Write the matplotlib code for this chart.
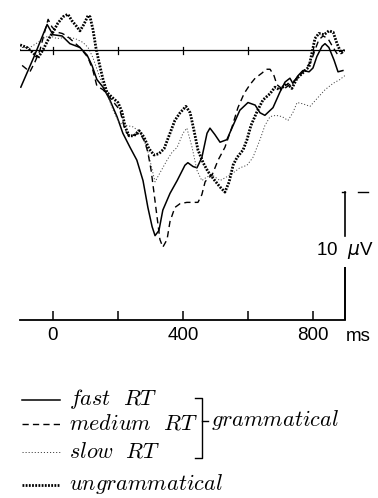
import matplotlib
matplotlib.use("Agg")
import matplotlib.pyplot as plt

plt.rcParams['lines.scale_dashes'] = False
plt.rcParams['font.family'] = ['Liberation Sans', 'DejaVu Sans']

# ---- data (time in ms, amplitude in microvolts; negative plotted up) ----
fast_t = [-99, -58, -18, 0, 28, 52, 83, 105, 120, 135, 154, 175, 197, 215, 237, 258, 277, 292,
          305, 314, 326, 338, 360, 382, 406, 415, 431, 443, 458, 474, 483, 498, 514, 535, 554,
          575, 600, 622, 637, 652, 677, 698, 714, 729, 738, 754, 769, 788, 800, 812, 828, 837,
          849, 865, 877, 892]
fast_v = [2.9, 0.5, -2.0, -1.2, -1.1, -0.5, -0.2, 0.4, 1.2, 2.3, 2.9, 3.9, 5.2, 6.5, 7.6, 8.6,
          10.2, 12.3, 13.8, 14.5, 14.1, 12.5, 11.2, 10.2, 9.0, 8.8, 9.1, 9.2, 8.4, 6.5, 6.1, 6.6,
          7.2, 7.0, 5.9, 4.7, 4.1, 4.3, 4.9, 5.1, 4.5, 3.3, 2.5, 2.2, 2.6, 2.0, 1.6, 1.7, 1.4,
          0.5, -0.3, -0.5, -0.2, 0.8, 1.7, 1.6]

medium_t = [-95, -71, -55, -40, -28, -15, -3, 12, 28, 43, 83, 108, 123, 135, 154, 175, 206, 222,
            237, 252, 268, 283, 292, 302, 311, 320, 329, 338, 351, 360, 375, 391, 412, 434, 446,
            458, 468, 477, 489, 508, 529, 551, 569, 588, 606, 622, 643, 656, 668, 680, 689, 708,
            723, 738, 760, 778, 794, 806, 818, 831, 846, 862, 877, 892]
medium_v = [1.2, 1.7, 0.9, 0.0, -1.2, -2.4, -1.8, -1.4, -1.3, -1.1, -0.2, 0.6, 1.6, 2.8, 3.1,
            3.7, 4.7, 6.3, 6.8, 6.6, 6.5, 7.2, 8.0, 9.4, 11.2, 13.0, 14.8, 15.4, 14.8, 13.4,
            12.3, 12.0, 11.9, 11.9, 11.9, 11.3, 10.3, 10.0, 9.8, 8.6, 7.6, 6.0, 4.5, 3.4, 2.7,
            2.2, 1.8, 1.5, 1.5, 2.0, 2.7, 3.1, 2.8, 2.5, 2.0, 1.4, 0.9, 0.0, -0.8, -1.1, -0.9,
            -0.2, 0.4, 0.2]

slow_t = [-101, -95, -71, -46, -25, -9, 12, 43, 68, 92, 108, 123, 145, 166, 185, 200, 212, 228,
          246, 268, 289, 302, 314, 329, 351, 366, 382, 400, 412, 428, 443, 458, 474, 492, 514,
          535, 554, 575, 597, 615, 637, 652, 668, 686, 705, 723, 738, 751, 769, 791, 812, 837,
          862, 883, 898]
slow_v = [0.0, -0.2, -0.2, -0.6, -1.0, -1.1, -0.9, -1.0, -0.9, -0.6, -0.2, 0.6, 2.2, 3.4, 4.7,
          5.5, 5.8, 5.9, 6.0, 6.4, 7.6, 9.0, 10.3, 9.6, 8.6, 8.0, 7.6, 6.5, 6.1, 7.6, 9.4, 10.2,
          9.9, 9.8, 10.2, 9.9, 9.6, 9.2, 9.0, 8.4, 7.0, 5.9, 5.2, 5.1, 5.2, 5.5, 4.9, 4.1, 4.2,
          4.4, 3.8, 3.1, 2.6, 2.3, 2.0]

ungram_t = [-101, -80, -62, -46, -31, -15, 0, 15, 31, 46, 58, 71, 83, 95, 108, 114, 123, 132,
            142, 154, 166, 182, 200, 212, 222, 234, 249, 265, 280, 295, 311, 326, 342, 360, 375,
            391, 409, 422, 434, 446, 462, 477, 498, 514, 529, 542, 554, 566, 585, 597, 609, 628,
            646, 668, 683, 698, 720, 735, 751, 772, 788, 797, 806, 818, 834, 849, 862, 874, 886,
            898]
ungram_v = [-0.4, -0.2, 0.2, 0.6, 0.0, -0.8, -1.4, -2.1, -2.6, -2.8, -2.3, -1.9, -1.5, -2.0,
            -2.7, -2.6, -1.6, -0.2, 1.0, 2.3, 3.3, 3.7, 4.1, 4.8, 6.0, 6.7, 6.7, 6.3, 6.8, 7.7,
            8.2, 8.1, 7.7, 6.5, 5.5, 4.9, 4.4, 4.9, 6.3, 7.8, 8.8, 9.5, 10.2, 10.7, 11.1, 10.3,
            9.0, 8.4, 7.8, 7.0, 5.9, 4.8, 3.9, 3.4, 2.9, 3.1, 2.6, 3.0, 2.2, 1.7, 1.3, 0.2, -0.9,
            -1.3, -1.2, -1.5, -1.4, -0.5, 0.2, 0.0]

tick_ms = [0, 200, 400, 600, 800]
tick_labels = ['0', '', '400', '', '800']
legend_labels = [r'$fast\ \ RT$', r'$medium\ \ RT$', r'$slow\ \ RT$', r'$ungrammatical$']
group_label = r'$grammatical$'
scale_uv = 10

# ---- styles ----
styles = [
    dict(color='black', lw=1.1, ls='-'),
    dict(color='black', lw=1.0, ls=(0, (4.5, 3.0))),
    dict(color='#444444', lw=0.7, ls=(0, (0.8, 1.4))),
    dict(color='black', lw=2.0, ls=(0, (1.3, 1.0))),
]

fig = plt.figure(figsize=(3.78, 4.98), dpi=100)
W, H = 378.0, 498.0
ax = fig.add_axes([20 / W, 1 - 320 / H, 325 / W, 315 / H])
ax.set_xlim(-101.5, 898.5)
ax.set_ylim(21.09, -3.52)

series = [(fast_t, fast_v), (medium_t, medium_v), (slow_t, slow_v), (ungram_t, ungram_v)]
for (t, v), st in zip(series, styles):
    ax.plot(t, v, dash_capstyle='butt', solid_joinstyle='round', **st)

# baseline with small ticks
ax.plot([-100, 898], [0, 0], color='black', lw=0.9)
for tm in tick_ms:
    ax.plot([tm, tm], [-0.25, 0.3], color='black', lw=0.9)

# bottom time axis
for s in ['top', 'right', 'left']:
    ax.spines[s].set_visible(False)
ax.spines['bottom'].set_linewidth(1.3)
ax.set_yticks([])
ax.set_xticks(tick_ms)
ax.set_xticklabels(tick_labels, fontsize=13.5)
ax.tick_params(axis='x', direction='in', length=6.5, width=1.1, pad=5)
ax.text(938, 22.4, 'ms', fontsize=13.5, ha='center', va='center', clip_on=False)

# scale bar (10 µV)
xb = 898
ytop = 21.09 - scale_uv
ax.plot([xb, xb], [ytop, ytop + 3.4], color='black', lw=1.2, clip_on=False)
ax.plot([xb, xb], [ytop + 5.85, 21.09], color='black', lw=1.4, clip_on=False, solid_capstyle='butt')
ax.plot([xb - 8, xb], [ytop, ytop], color='black', lw=1.0, clip_on=False)
ax.plot([940, 970], [ytop, ytop], color='black', lw=1.0, clip_on=False)
ax.text(xb, ytop + 4.55, '10  $\\mu$V', fontsize=13.5, ha='center', va='center',
        clip_on=False, math_fontfamily='dejavusans')

# legend (manual)
lax = fig.add_axes([0, 0, 1, 1])
lax.set_xlim(0, W)
lax.set_ylim(H, 0)
lax.axis('off')
lax.patch.set_visible(False)
rows = [400, 424, 452, 485]
for y, st, lab in zip(rows, styles, legend_labels):
    lax.plot([22, 60], [y, y], dash_capstyle='butt', **st)
    lax.text(69, y + 5, lab, fontsize=16, ha='left', va='baseline', math_fontfamily='cm')
# bracket
lax.plot([195, 202, 202, 195], [398, 398, 458, 458], color='black', lw=1.0)
lax.plot([202, 208], [421, 421], color='black', lw=1.0)
lax.text(211, 426, group_label, fontsize=16, ha='left', va='baseline', math_fontfamily='cm')

fig.savefig('out.png', dpi=100)
